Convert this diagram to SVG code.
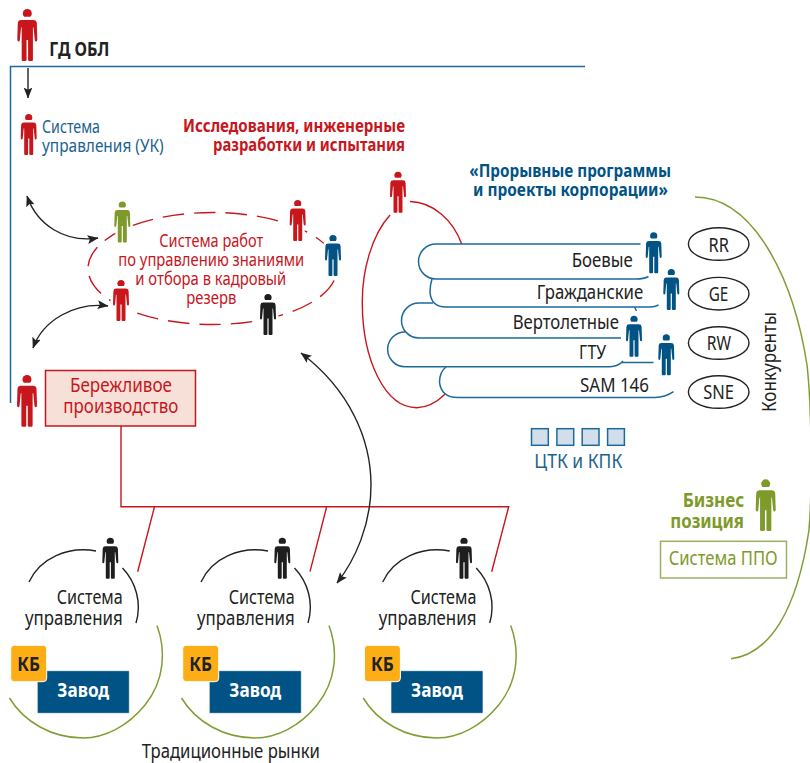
<svg xmlns="http://www.w3.org/2000/svg" width="810" height="763" viewBox="0 0 810 763">
<style>
text{font-family:"Noto Sans","Open Sans","Liberation Sans",sans-serif;font-size:19.5px;fill:#222}
.b{font-weight:700}
.red{fill:#c8161d}.blue{fill:#1c6290}.navy{fill:#005384}.grn{fill:#7d9a2a}.wht{fill:#fff}
.t17{font-size:17.5px}.t18{font-size:18px}.t20{font-size:20px}
.c{fill:none;stroke-linecap:butt}
.k{stroke:#222;stroke-width:1.4}
.r{stroke:#c8161d;stroke-width:1.4}
.bl{stroke:#1c6a9a;stroke-width:1.5}
.g{stroke:#7f9f35;stroke-width:1.5}
.p{stroke:#fff;stroke-width:5;paint-order:stroke}
.pr{fill:#c8161d}.pg{fill:#7d9a2a}.pb{fill:#005384}.pk{fill:#1e1e1e}
.ov{fill:#fff;stroke:#222;stroke-width:1.4}
.sq{fill:#d3deeb;stroke:#1c6a9a;stroke-width:1.5}
.zav{fill:#005384;stroke:#fff;stroke-width:.6}
.kb{fill:#fdae17;stroke:#fff;stroke-width:1}
</style>
<defs>
<g id="person"><circle cx="8" cy="3.6" r="3.6"/><path d="M3.2 8.6H12.8Q15.4 8.6 15.6 11L16 24Q16 25.6 15 25.6Q14.2 25.6 14 24.6L13 14.5H12.5V40Q12.5 41 11.5 41H9.6Q8.6 41 8.6 40V24.5H7.4V40Q7.4 41 6.4 41H4.5Q3.5 41 3.5 40V14.5H3L2 24.6Q1.8 25.6 1 25.6Q0 25.6 0 24L.4 11Q.6 8.6 3.2 8.6Z"/></g>
<marker id="ah" viewBox="0 0 10 8" refX="9.5" refY="4" markerWidth="11" markerHeight="8.8" markerUnits="userSpaceOnUse" orient="auto-start-reverse"><path d="M0 0L10 4L0 8L2 4Z" fill="#222"/></marker>
</defs>

<g id="connectors">
<path class="c bl" d="M585 66.5H10.5V403"/>
<line class="k" x1="28" y1="68" x2="28" y2="98" marker-end="url(#ah)"/>
<path class="c k" d="M27 196C37 225 65 243 98 238" marker-start="url(#ah)" marker-end="url(#ah)"/>
<path class="c k" d="M33 348C43 320 75 302 108 306" marker-start="url(#ah)" marker-end="url(#ah)"/>
<path class="c r" d="M121 426V506.7H508.7L491.7 571.7M154.5 506.7L137.7 571.7M326.7 506.7L310 571.7"/>
<path class="c k" d="M301 353C350 390 371 440 371 485C371 525 355 560 337 583" marker-start="url(#ah)" marker-end="url(#ah)"/>
<path class="c r" d="M410 201.5C433 202 453 220 461.7 244M390 215C372 235 362 270 362.3 303C362.5 360 385 407.7 416.7 407.7C428 407.7 437 402 445 394.3"/>
<path class="c g" d="M695 197C752 197 793 275 807 365C811 400 813 480 809 530C797 610 770 654 731 658.7"/>
</g>

<g id="programs">
<path class="c bl" d="M640.5 244H436A17.5 17.5 0 0 0 436 279H636Q644 279 648.5 276.5"/>
<path class="c bl" d="M432 279Q430 285 430 292Q431 307 446 307H650Q655 307 658.5 305M634.5 307L636.5 311"/>
<path class="c bl" d="M433 303H419A17.5 17.5 0 0 0 419 338H621"/>
<path class="c bl" d="M405 332A17.3 17.3 0 0 0 405 366.7H610Q618 366.7 623 361M621 362.5H653.5"/>
<path class="c bl" d="M446 367Q439.5 372 439.5 382Q441 397.5 458 397.5H655Q665 397.5 673.5 391.7"/>
<text x="571.7" y="267.3" textLength="61" lengthAdjust="spacingAndGlyphs">Боевые</text>
<text x="536.7" y="299.3" textLength="106.6" lengthAdjust="spacingAndGlyphs">Гражданские</text>
<text x="512.7" y="329.3" textLength="106.3" lengthAdjust="spacingAndGlyphs">Вертолетные</text>
<text x="579" y="359" textLength="27" lengthAdjust="spacingAndGlyphs">ГТУ</text>
<text x="580" y="391.7" textLength="69" lengthAdjust="spacingAndGlyphs">SAM 146</text>
</g>

<g id="competitors">
<ellipse class="ov" cx="718.7" cy="244" rx="30.3" ry="16.3"/><text x="708.5" y="251.7" textLength="20.3" lengthAdjust="spacingAndGlyphs">RR</text>
<ellipse class="ov" cx="718.7" cy="293.7" rx="30.3" ry="16.3"/><text x="708.7" y="301" textLength="19.7" lengthAdjust="spacingAndGlyphs">GE</text>
<ellipse class="ov" cx="718.7" cy="343" rx="30.3" ry="16.3"/><text x="706.7" y="350.3" textLength="24.3" lengthAdjust="spacingAndGlyphs">RW</text>
<ellipse class="ov" cx="718.7" cy="392" rx="30.3" ry="16.3"/><text x="703.3" y="399.3" textLength="30.7" lengthAdjust="spacingAndGlyphs">SNE</text>
<text class="t20" transform="translate(776 412) rotate(-90)" textLength="100" lengthAdjust="spacingAndGlyphs">Конкуренты</text>
</g>

<g id="gd-obl">
<use href="#person" class="p pr" transform="translate(17.3 9) scale(1.25 1.27)"/>
<text class="b t20" x="49.3" y="56" textLength="60" lengthAdjust="spacingAndGlyphs">ГД ОБЛ</text>
</g>
<g id="uk">
<use href="#person" class="p pr" transform="translate(20.7 114)"/>
<text class="blue t18" x="42" y="132.7" textLength="58" lengthAdjust="spacingAndGlyphs">Система</text>
<text class="blue t18" x="42" y="151.7" textLength="121.7" lengthAdjust="spacingAndGlyphs">управления (УК)</text>
</g>
<g id="research-title">
<text class="b red t17" x="183" y="131.5" textLength="222" lengthAdjust="spacingAndGlyphs">Исследования, инженерные</text>
<text class="b red t17" x="213" y="150.5" textLength="192" lengthAdjust="spacingAndGlyphs">разработки и испытания</text>
</g>
<g id="programs-title">
<text class="b navy t17" x="469.3" y="177" textLength="201.7" lengthAdjust="spacingAndGlyphs">«Прорывные программы</text>
<text class="b navy t17" x="473" y="196" textLength="195" lengthAdjust="spacingAndGlyphs">и проекты корпорации»</text>
</g>

<g id="knowledge-system">
<ellipse cx="212.5" cy="268.5" rx="124.5" ry="56" fill="none" stroke="#c8161d" stroke-width="1.4" stroke-dasharray="21.5 10" stroke-dashoffset="19"/>
<use href="#person" class="p pg" transform="translate(114.3 201.5)"/>
<use href="#person" class="p pr" transform="translate(289.7 200)"/>
<use href="#person" class="p pb" transform="translate(325 235)"/>
<use href="#person" class="p pr" transform="translate(113 280)"/>
<use href="#person" class="p pk" transform="translate(260 294)"/>
<text class="red t18" x="159.3" y="247" textLength="104" lengthAdjust="spacingAndGlyphs">Система работ</text>
<text class="red t18" x="118.3" y="266" textLength="186" lengthAdjust="spacingAndGlyphs">по управлению знаниями</text>
<text class="red t18" x="135.3" y="284.5" textLength="151" lengthAdjust="spacingAndGlyphs">и отбора в кадровый</text>
<text class="red t18" x="186.3" y="304" textLength="50" lengthAdjust="spacingAndGlyphs">резерв</text>
</g>

<g id="lean">
<use href="#person" class="p pr" transform="translate(17 375) scale(1.25 1.26)"/>
<rect x="45.5" y="370.5" width="150" height="55.5" fill="#f7e0d8" stroke="#c8161d" stroke-width="1.5"/>
<text class="red" x="70" y="392" textLength="102" lengthAdjust="spacingAndGlyphs">Бережливое</text>
<text class="red" x="63.3" y="413" textLength="115" lengthAdjust="spacingAndGlyphs">производство</text>
</g>

<g id="prorab-person"><use href="#person" class="p pr" transform="translate(390 171.7)"/></g>
<g id="program-people">
<use href="#person" class="p pb" transform="translate(645.7 232.3)"/>
<use href="#person" class="p pb" transform="translate(663.3 269)"/>
<use href="#person" class="p pb" transform="translate(626 315.7)"/>
<use href="#person" class="p pb" transform="translate(658.3 334.3)"/>
</g>

<g id="ctk">
<rect class="sq" x="531.5" y="428.7" width="16.8" height="16.6"/>
<rect class="sq" x="556.9" y="428.7" width="16.8" height="16.6"/>
<rect class="sq" x="582.2" y="428.7" width="16.8" height="16.6"/>
<rect class="sq" x="607.6" y="428.7" width="16.8" height="16.6"/>
<text class="blue t20" x="534.3" y="467.5" textLength="88" lengthAdjust="spacingAndGlyphs">ЦТК и КПК</text>
</g>

<g id="business">
<use href="#person" class="p pg" transform="translate(755.7 479.3) scale(1.25 1.26)"/>
<text class="b grn" x="682.7" y="506.7" textLength="61.6" lengthAdjust="spacingAndGlyphs">Бизнес</text>
<text class="b grn" x="670.3" y="528.3" textLength="73.7" lengthAdjust="spacingAndGlyphs">позиция</text>
<rect x="660.5" y="541.3" width="126" height="36.7" fill="#fff" stroke="#98b060" stroke-width="1.5"/>
<text class="grn t20" x="668.7" y="565" textLength="109" lengthAdjust="spacingAndGlyphs">Система ППО</text>
</g>

<g id="unit-1">
<path class="c k" d="M29 582C40 558 68 546 96 551M122.5 568C136 582 142 603 136 623"/>
<path class="c g" d="M157 625.5C166 650 165 680 145 705C128 726 105 738 83 738C52 738 24 722 9.5 698"/>
<use href="#person" class="p pk" transform="translate(102.3 537.7)"/>
<text x="56.7" y="604.3" textLength="66" lengthAdjust="spacingAndGlyphs">Система</text>
<text x="25" y="625" textLength="97.7" lengthAdjust="spacingAndGlyphs">управления</text>
<rect class="zav" x="37.3" y="670.7" width="92" height="42.6" rx="1"/>
<rect class="kb" x="10.7" y="645.3" width="36" height="36.4" rx="3.5"/>
<text class="b t20" x="17.3" y="671" textLength="22.7" lengthAdjust="spacingAndGlyphs">КБ</text>
<text class="b wht t20" x="57.3" y="697" textLength="52" lengthAdjust="spacingAndGlyphs">Завод</text>
</g>
<g id="unit-2" transform="translate(172 0)">
<path class="c k" d="M29 582C40 558 68 546 96 551M122.5 568C136 582 142 603 136 623"/>
<path class="c g" d="M157 625.5C166 650 165 680 145 705C128 726 105 738 83 738C52 738 24 722 9.5 698"/>
<use href="#person" class="p pk" transform="translate(102.3 537.7)"/>
<text x="56.7" y="604.3" textLength="66" lengthAdjust="spacingAndGlyphs">Система</text>
<text x="25" y="625" textLength="97.7" lengthAdjust="spacingAndGlyphs">управления</text>
<rect class="zav" x="37.3" y="670.7" width="92" height="42.6" rx="1"/>
<rect class="kb" x="10.7" y="645.3" width="36" height="36.4" rx="3.5"/>
<text class="b t20" x="17.3" y="671" textLength="22.7" lengthAdjust="spacingAndGlyphs">КБ</text>
<text class="b wht t20" x="57.3" y="697" textLength="52" lengthAdjust="spacingAndGlyphs">Завод</text>
</g>
<g id="unit-3" transform="translate(353.7 0)">
<path class="c k" d="M29 582C40 558 68 546 96 551M122.5 568C136 582 142 603 136 623"/>
<path class="c g" d="M157 625.5C166 650 165 680 145 705C128 726 105 738 83 738C52 738 24 722 9.5 698"/>
<use href="#person" class="p pk" transform="translate(102.3 537.7)"/>
<text x="56.7" y="604.3" textLength="66" lengthAdjust="spacingAndGlyphs">Система</text>
<text x="25" y="625" textLength="97.7" lengthAdjust="spacingAndGlyphs">управления</text>
<rect class="zav" x="37.3" y="670.7" width="92" height="42.6" rx="1"/>
<rect class="kb" x="10.7" y="645.3" width="36" height="36.4" rx="3.5"/>
<text class="b t20" x="17.3" y="671" textLength="22.7" lengthAdjust="spacingAndGlyphs">КБ</text>
<text class="b wht t20" x="57.3" y="697" textLength="52" lengthAdjust="spacingAndGlyphs">Завод</text>
</g>
<text id="markets" class="t20" x="141.7" y="758" textLength="178.3" lengthAdjust="spacingAndGlyphs">Традиционные рынки</text>
</svg>
